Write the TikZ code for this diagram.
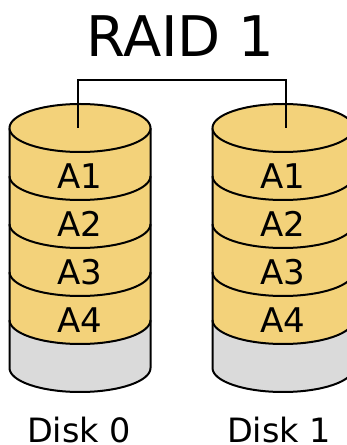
\documentclass[tikz,border=0pt]{standalone}
\usepackage{fontspec}
\setmainfont{DejaVu Sans}
\definecolor{platter}{RGB}{243,210,122}
\definecolor{spare}{RGB}{218,218,218}
\tikzset{
  rim/.style={draw=black, line width=2pt, line join=round},
  stripe/.style={font=\fontsize{34}{34}\selectfont, inner sep=0pt},
  caption/.style={font=\fontsize{33.5}{33.5}\selectfont, inner sep=0pt, anchor=base},
  heading/.style={font=\fontsize{56}{56}\selectfont, inner sep=0pt, anchor=base},
  % one disk: origin at the centre of its top face
  disk/.pic={
    \def\rx{70.5}\def\ry{24}
    % data area
    \fill[platter] (-\rx,0) -- (-\rx,-192)
      arc[start angle=180, end angle=360, x radius=\rx, y radius=\ry]
      -- (\rx,0) arc[start angle=0, end angle=180, x radius=\rx, y radius=\ry] -- cycle;
    % unused space at the bottom
    \fill[spare] (-\rx,-192)
      arc[start angle=180, end angle=360, x radius=\rx, y radius=\ry]
      -- (\rx,-240) arc[start angle=0, end angle=-180, x radius=\rx, y radius=\ry] -- cycle;
    % block boundaries
    \foreach \d in {48,96,144,192}
      \draw[rim] (-\rx,-\d) arc[start angle=180, end angle=360, x radius=\rx, y radius=\ry];
    % sides and bottom
    \draw[rim] (-\rx,0) -- (-\rx,-240)
      arc[start angle=180, end angle=360, x radius=\rx, y radius=\ry] -- (\rx,0);
    % top face
    \draw[rim, fill=platter] (0,0) ellipse[x radius=\rx, y radius=\ry];
  }
}
\begin{document}
\begin{tikzpicture}[x=1pt, y=1pt]
\useasboundingbox (0,0) rectangle (347,445);
\clip (0,0) rectangle (347,445);

\node[heading] (title) at (180.5,388) {RAID 1};

\pic at (80,317) {disk};
\pic at (283,317) {disk};

% mirrored write feeding both disks
\coordinate (feedL) at (78,317);
\coordinate (feedR) at (286,317);
\coordinate (bus) at (180,365);
\draw[rim, line join=miter] (feedL) |- (bus) -| (feedR);

\foreach \i/\y in {1/269,2/221,3/173,4/125} {
  \node[stripe] (d0a\i) at (80,\y) {A\i};
  \node[stripe] (d1a\i) at (283,\y) {A\i};
}

\node[caption] (disk0) at (79,2) {Disk 0};
\node[caption] (disk1) at (279,2) {Disk 1};
\end{tikzpicture}
\end{document}
